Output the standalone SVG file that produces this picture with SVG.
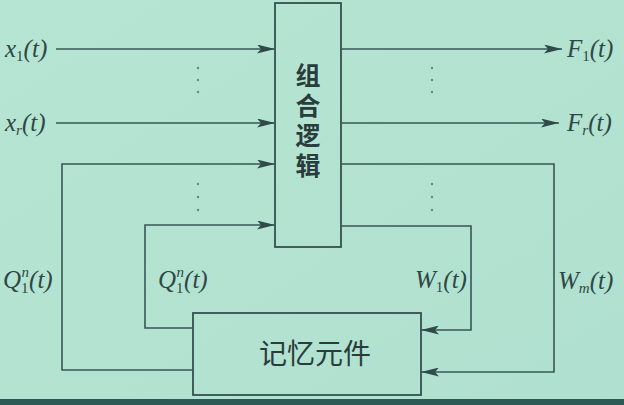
<svg xmlns="http://www.w3.org/2000/svg" width="624" height="405" viewBox="0 0 624 405">
<defs>
<marker id="arr" viewBox="0 0 18 9" refX="18" refY="4.5" markerWidth="18" markerHeight="9" markerUnits="userSpaceOnUse" orient="auto">
<path d="M0,0 L18,4.5 L0,9 L4,4.5 Z" fill="#2f4a49"/>
</marker>
<linearGradient id="bg" x1="0" y1="0" x2="1" y2="1">
<stop offset="0" stop-color="#b6e5d3"/>
<stop offset="1" stop-color="#b0e0cf"/>
</linearGradient>
</defs>
<style>
.ln{fill:none;stroke:#3a5756;stroke-width:1.6}
.box{fill:none;stroke:#34504f;stroke-width:1.8}
.lab{font-family:"Liberation Serif",serif;font-style:italic;font-size:25px;fill:#2f4746}
.sub{font-size:15px;font-style:normal}
.cn{font-family:"Noto Sans CJK SC",sans-serif;font-size:25px;fill:#2a3c3c;font-weight:bold}
.vert{writing-mode:vertical-rl;letter-spacing:5px}
.dot{fill:#6d8583}
</style>
<rect x="0" y="0" width="624" height="405" fill="url(#bg)"/>
<rect x="0" y="399" width="624" height="6" fill="#2e5a56"/>

<g id="comb-logic">
<rect class="box" x="275" y="3" width="66" height="244"/>
<text class="cn vert" x="308" y="63">组合逻辑</text>
</g>

<g id="memory">
<rect class="box" x="193" y="313" width="228" height="82"/>
<text class="cn" x="315" y="364" text-anchor="middle" style="font-weight:normal;font-size:28px">记忆元件</text>
</g>

<g id="connectors">
<line class="ln" x1="56" y1="49" x2="275" y2="49" marker-end="url(#arr)"/>
<line class="ln" x1="56" y1="123" x2="275" y2="123" marker-end="url(#arr)"/>
<polyline class="ln" points="193,370 62,370 62,164 275,164" marker-end="url(#arr)"/>
<polyline class="ln" points="193,328 145,328 145,225 275,225" marker-end="url(#arr)"/>
<line class="ln" x1="341" y1="49" x2="562" y2="49" marker-end="url(#arr)"/>
<line class="ln" x1="341" y1="123" x2="559" y2="123" marker-end="url(#arr)"/>
<polyline class="ln" points="341,164 554,164 554,372 421,372" marker-end="url(#arr)"/>
<polyline class="ln" points="341,226 471,226 471,330 421,330" marker-end="url(#arr)"/>
</g>

<g id="dots">
<circle class="dot" cx="198" cy="68" r="1.2"/>
<circle class="dot" cx="198" cy="80" r="1.2"/>
<circle class="dot" cx="198" cy="92" r="1.2"/>
<circle class="dot" cx="198" cy="184" r="1.2"/>
<circle class="dot" cx="198" cy="197" r="1.2"/>
<circle class="dot" cx="198" cy="210" r="1.2"/>
<circle class="dot" cx="432" cy="68" r="1.2"/>
<circle class="dot" cx="432" cy="80" r="1.2"/>
<circle class="dot" cx="432" cy="92" r="1.2"/>
<circle class="dot" cx="432" cy="184" r="1.2"/>
<circle class="dot" cx="432" cy="197" r="1.2"/>
<circle class="dot" cx="432" cy="210" r="1.2"/>
</g>

<g id="labels">
<text class="lab" x="5" y="57">x<tspan class="sub" dy="4">1</tspan><tspan dy="-4">(t)</tspan></text>
<text class="lab" x="5" y="131">x<tspan class="sub" style="font-style:italic" dy="4">r</tspan><tspan dy="-4">(t)</tspan></text>
<text class="lab" x="567" y="57">F<tspan class="sub" dy="4">1</tspan><tspan dy="-4">(t)</tspan></text>
<text class="lab" x="567" y="131">F<tspan class="sub" style="font-style:italic" dy="4">r</tspan><tspan dy="-4">(t)</tspan></text>
<text class="lab" x="3" y="288">Q<tspan class="sub" dy="5">1</tspan><tspan class="sub" style="font-style:italic" dx="-7" dy="-16">n</tspan><tspan dy="11">(t)</tspan></text>
<text class="lab" x="158" y="288">Q<tspan class="sub" dy="5">1</tspan><tspan class="sub" style="font-style:italic" dx="-7" dy="-16">n</tspan><tspan dy="11">(t)</tspan></text>
<text class="lab" x="415" y="288">W<tspan class="sub" dy="4">1</tspan><tspan dy="-4">(t)</tspan></text>
<text class="lab" x="558" y="289">W<tspan class="sub" style="font-style:italic" dy="4">m</tspan><tspan dy="-4">(t)</tspan></text>
</g>
</svg>
